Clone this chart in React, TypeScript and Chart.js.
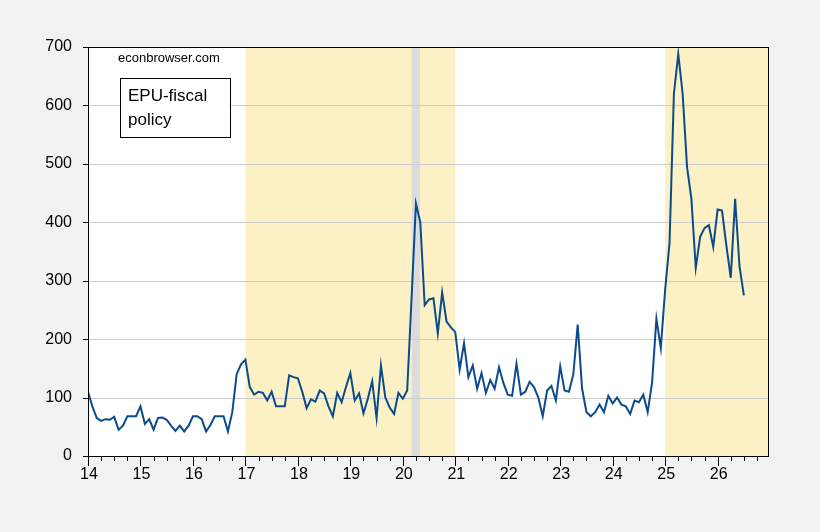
import React, { useEffect, useRef } from "react";
import { Chart, registerables } from "chart.js";
Chart.register(...registerables);

const startYear = 2014;
const epuFiscal: number[] = [
  110,85,65,60,63,62,67,45,52,68,68,68,
  85,55,63,45,65,66,62,52,43,52,42,52,
  68,68,63,42,53,68,68,68,42,75,140,157,
  165,118,105,110,108,95,110,85,85,85,138,135,
  133,110,82,97,93,112,107,85,68,108,92,118,
  142,95,107,73,98,128,65,155,100,83,72,108,
  98,112,270,432,400,258,268,270,210,280,230,220,
  212,148,193,135,155,115,142,108,130,115,152,125,
  105,103,158,105,110,127,118,100,68,112,120,95,
  153,112,110,140,225,115,75,68,75,88,75,103,
  90,100,88,85,72,95,92,105,75,125,235,185,
  285,365,620,688,620,495,440,322,375,390,395,358,
  422,420,360,305,440,325,275,
];
const xLabels = ["14","15","16","17","18","19","20","21","22","23","24","25","26"];
const tanPeriods: [number, number][] = [[2017, 2021], [2025, 2027]];
const grayPeriods: [number, number][] = [[2020.17, 2020.33]];
const yTicks = [0, 100, 200, 300, 400, 500, 600, 700];

export default function App() {
  const ref = useRef<HTMLCanvasElement>(null);
  useEffect(() => {
    document.body.style.margin = "0";
    const pts = epuFiscal.map((v, i) => ({ x: startYear + i / 12, y: v }));
    const shade = {
      id: "shade",
      beforeDatasetsDraw(c: any) {
        const { ctx, chartArea: a, scales } = c;
        const x = scales.x;
        ctx.save();
        ctx.fillStyle = "#ffffff";
        ctx.fillRect(a.left, a.top, a.right - a.left, a.bottom - a.top);
        const box = (p: [number, number], col: string) => {
          const l = Math.max(a.left, x.getPixelForValue(p[0]));
          const r = Math.min(a.right, x.getPixelForValue(p[1]));
          ctx.fillStyle = col;
          ctx.fillRect(l, a.top, r - l, a.bottom - a.top);
        };
        tanPeriods.forEach((p) => box(p, "#fcf1c4"));
        grayPeriods.forEach((p) => box(p, "#dcdcdc"));
        ctx.strokeStyle = "#cccccc";
        ctx.lineWidth = 1;
        yTicks.forEach((t) => {
          if (t === 0 || t === 700) return;
          const yy = Math.round(scales.y.getPixelForValue(t)) + 0.5;
          ctx.beginPath(); ctx.moveTo(a.left, yy); ctx.lineTo(a.right, yy); ctx.stroke();
        });
        ctx.restore();
      },
      afterDraw(c: any) {
        const { ctx, chartArea: a, scales } = c;
        ctx.save();
        ctx.strokeStyle = "#000";
        ctx.lineWidth = 1;
        ctx.strokeRect(a.left + 0.5, a.top + 0.5, a.right - a.left, a.bottom - a.top);
        for (let q = 0; q <= 52; q++) {
          const v = startYear + q / 4;
          const xx = Math.round(scales.x.getPixelForValue(v)) + 0.5;
          if (xx > a.right + 1) break;
          ctx.beginPath(); ctx.moveTo(xx, a.bottom); ctx.lineTo(xx, a.bottom + (q % 4 === 0 ? 10 : 5)); ctx.stroke();
        }
        yTicks.forEach((t) => {
          const yy = Math.round(scales.y.getPixelForValue(t)) + 0.5;
          ctx.beginPath(); ctx.moveTo(a.left - 5, yy); ctx.lineTo(a.left, yy); ctx.stroke();
        });
        ctx.fillStyle = "#000";
        ctx.font = "16px 'Liberation Sans', Arial";
        ctx.textAlign = "center";
        ctx.textBaseline = "top";
        xLabels.forEach((l, i) => {
          ctx.fillText(l, scales.x.getPixelForValue(startYear + i) + 1, a.bottom + 11);
        });
        ctx.textAlign = "left";
        ctx.textBaseline = "middle";
        ctx.font = "13px 'Liberation Sans', Arial";
        ctx.fillText("econbrowser.com", a.left + 30, a.top + 11);
        ctx.fillStyle = "#fff";
        ctx.fillRect(a.left + 32, a.top + 31, 110, 59);
        ctx.strokeRect(a.left + 32.5, a.top + 31.5, 110, 59);
        ctx.fillStyle = "#000";
        ctx.font = "17px 'Liberation Sans', Arial";
        ctx.fillText("EPU-fiscal", a.left + 40, a.top + 49);
        ctx.fillText("policy", a.left + 40, a.top + 73);
        ctx.restore();
      },
    };
    const chart = new Chart(ref.current!, {
      type: "line",
      data: {
        datasets: [{
          data: pts, borderColor: "#0b4a8b", borderWidth: 2, pointRadius: 0, tension: 0,
        }],
      },
      options: {
        animation: false, responsive: false,
        layout: { padding: { left: 0, right: 52, top: 47, bottom: 40 } },
        plugins: { legend: { display: false }, tooltip: { enabled: false } },
        scales: {
          x: {
            type: "linear", min: 2014, max: 2026.96,
            grid: { display: false },
            border: { display: false },
            afterFit: (s: any) => { s.height = 36; },
            ticks: { display: false },
          },
          y: {
            min: 0, max: 700,
            grid: { display: false },
            border: { display: false },
            afterFit: (s: any) => { s.width = 88; },
            ticks: {
              stepSize: 100, color: "#000", padding: 8,
              font: { size: 16, family: "'Liberation Sans', Arial" },
            },
          },
        },
      },
      plugins: [shade],
    });
    return () => chart.destroy();
  }, []);
  return (
    <div style={{ background: "#f2f2f2", width: 820, height: 532 }}>
      <canvas ref={ref} width={820} height={532} style={{ display: "block" }} />
    </div>
  );
}
